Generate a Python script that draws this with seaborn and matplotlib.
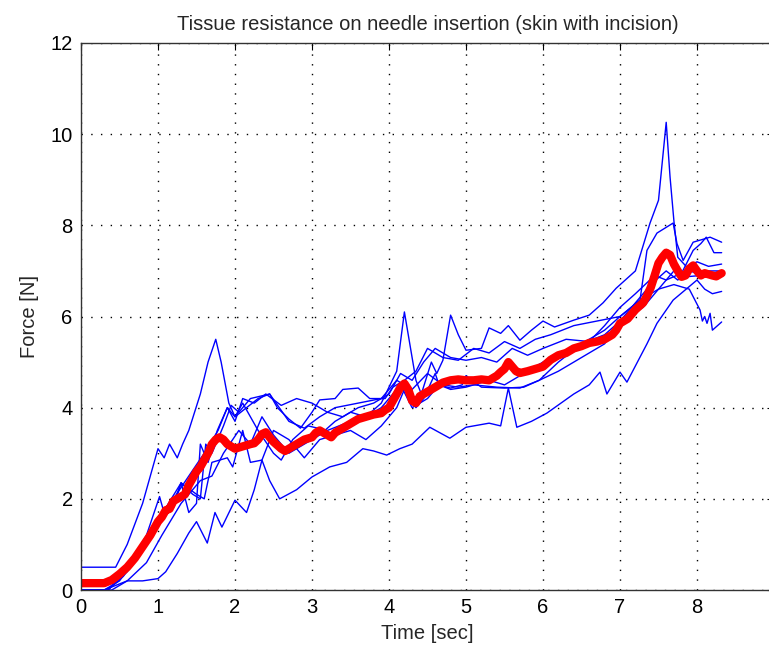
import numpy as np
import pandas as pd
import seaborn as sns
import matplotlib
matplotlib.use("Agg")
import matplotlib.pyplot as plt

# ---- data (time in sec, force in N) ----
t_c1 = [0, 0.45, 0.6, 0.8, 1.0, 1.08, 1.15, 1.25, 1.32, 1.4, 1.55, 1.65, 1.75, 1.82, 1.92, 2.0,
        2.3, 2.45, 2.7, 2.9, 3.1, 3.3, 3.6, 3.9, 4.1, 4.3, 4.5, 4.7, 4.9, 5.1, 5.4, 5.7, 5.95,
        6.2, 6.5, 6.8, 7.0, 7.26, 7.5, 7.7, 7.85, 8.05, 8.15, 8.32]
f_c1 = [0.5, 0.5, 1.0, 1.9, 3.1, 2.9, 3.2, 2.9, 3.2, 3.5, 4.3, 5.0, 5.5, 5.0, 4.1, 3.8,
        4.2, 4.3, 3.7, 3.55, 3.8, 4.0, 4.1, 4.2, 4.6, 4.4, 4.75, 4.5, 4.45, 4.5, 4.45, 4.43, 4.6,
        5.0, 5.4, 5.7, 6.0, 6.36, 6.6, 7.0, 6.87, 6.9, 7.0, 7.0]

t_c2 = [0, 0.35, 0.6, 0.85, 1.02, 1.07, 1.2, 1.3, 1.4, 1.5, 1.55, 1.65, 1.77, 1.9, 2.0, 2.1,
        2.3, 2.5, 2.6, 2.75, 2.95, 3.2, 3.5, 3.7, 3.9, 4.1, 4.2, 4.35, 4.42, 4.55, 4.62, 4.7,
        4.8, 4.9, 5.0, 5.2, 5.3, 5.45, 5.55, 5.7, 5.85, 6.0, 6.15, 6.4, 6.6, 6.78, 6.95, 7.2,
        7.39, 7.5, 7.6, 7.65, 7.7, 7.75, 7.87, 8.0, 8.15, 8.32]
f_c2 = [0.0, 0.0, 0.5, 1.2, 2.05, 1.75, 1.9, 2.35, 1.7, 1.9, 3.2, 2.8, 3.5, 4.0, 3.8, 4.1,
        3.5, 3.0, 2.85, 3.3, 3.6, 3.5, 3.7, 3.8, 4.1, 4.8, 6.1, 4.6, 4.3, 5.0, 4.75, 5.04,
        6.03, 5.6, 5.26, 5.3, 5.75, 5.63, 5.8, 5.48, 5.7, 5.9, 5.77, 5.92, 6.03, 6.3, 6.62, 7.0,
        8.05, 8.55, 10.26, 9.06, 8.1, 7.3, 7.08, 7.2, 7.1, 7.15]

t_c3 = [0, 0.35, 0.55, 0.8, 1.0, 1.2, 1.3, 1.45, 1.55, 1.62, 1.7, 1.85, 1.95, 2.05, 2.2, 2.45,
        2.55, 2.7, 2.85, 3.0, 3.1, 3.3, 3.4, 3.6, 3.75, 3.95, 4.05, 4.2, 4.35, 4.5, 4.7, 4.9,
        5.1, 5.3, 5.5, 5.7, 5.9, 6.1, 6.4, 7.0, 7.26, 7.35, 7.48, 7.69, 7.74, 7.82, 7.95, 8.17,
        8.32]
f_c3 = [0.0, 0.0, 0.3, 0.9, 1.6, 1.8, 2.35, 2.1, 2.0, 3.2, 3.0, 3.6, 4.05, 3.9, 4.2, 4.3,
        4.0, 3.75, 3.55, 3.9, 4.17, 4.2, 4.4, 4.43, 4.2, 4.2, 4.45, 4.6, 4.8, 5.3, 5.1, 5.04,
        5.3, 5.2, 5.45, 5.3, 5.5, 5.6, 5.8, 6.0, 6.36, 7.45, 7.83, 8.05, 7.6, 7.23, 7.63, 7.74,
        7.63]

t_c4 = [0, 0.3, 0.5, 0.75, 1.1, 1.3, 1.5, 1.6, 1.7, 1.9, 1.97, 2.1, 2.2, 2.35, 2.5, 2.7,
        2.9, 3.1, 3.3, 3.5, 3.7, 3.9, 4.1, 4.2, 4.35, 4.45, 4.6, 4.65, 4.8, 4.95, 5.0, 5.2,
        5.5, 5.75, 5.95, 6.2, 6.5, 6.8, 7.0, 7.3, 7.5, 7.7, 7.9, 8.04, 8.07, 8.1, 8.13, 8.17,
        8.2, 8.32]
f_c4 = [0.0, 0.0, 0.2, 0.8, 1.8, 2.35, 2.1, 2.0, 2.8, 2.9, 2.7, 3.5, 2.8, 2.85, 3.5, 3.3,
        2.9, 3.3, 3.4, 3.5, 3.3, 3.6, 4.0, 4.4, 4.0, 4.2, 4.75, 4.5, 4.43, 4.5, 4.7, 4.45,
        4.43, 4.45, 4.6, 4.8, 5.1, 5.4, 5.9, 6.2, 6.6, 6.7, 6.6, 6.14, 5.9, 6.0, 5.85, 6.07,
        5.7, 5.88]

t_c5 = [0, 0.35, 0.6, 0.85, 1.0, 1.2, 1.4, 1.6, 1.78, 1.9, 2.0, 2.1, 2.25, 2.4, 2.6, 2.8,
        3.0, 3.2, 3.4, 3.6, 3.8, 4.0, 4.15, 4.3, 4.45, 4.6, 4.8, 5.0, 5.2, 5.4, 5.6, 5.8,
        6.0, 6.3, 6.6, 6.8, 7.0, 7.2, 7.45, 7.6, 7.8, 7.95, 8.05, 8.12, 8.22, 8.32]
f_c5 = [0.0, 0.0, 0.4, 1.0, 1.5, 2.0, 2.5, 3.0, 3.5, 4.0, 3.7, 4.2, 4.1, 4.3, 4.05, 4.2,
        4.1, 3.9, 3.8, 4.0, 4.1, 4.3, 4.75, 4.6, 5.0, 5.3, 5.1, 5.04, 5.1, 5.0, 5.3, 5.15,
        5.3, 5.5, 5.45, 5.8, 6.2, 6.5, 6.9, 6.8, 6.95, 7.45, 7.6, 7.74, 7.4, 7.4]

t_c6 = [0.3, 0.45, 0.6, 0.8, 1.0, 1.1, 1.25, 1.4, 1.5, 1.64, 1.74, 1.83, 2.0, 2.15, 2.25,
        2.35, 2.45, 2.58, 2.8, 3.0, 3.23, 3.45, 3.66, 3.8, 3.97, 4.14, 4.3, 4.53, 4.79, 5.0,
        5.3, 5.45, 5.55, 5.66, 5.85, 6.05, 6.4, 6.6, 6.74, 6.83, 7.0, 7.09, 7.35, 7.48, 7.69,
        8.0, 8.1, 8.2, 8.32]
f_c6 = [0.0, 0.1, 0.2, 0.2, 0.25, 0.4, 0.8, 1.25, 1.5, 1.03, 1.7, 1.38, 1.97, 1.7, 2.2,
        2.85, 2.4, 2.0, 2.2, 2.48, 2.7, 2.8, 3.1, 3.05, 2.96, 3.1, 3.2, 3.57, 3.33, 3.57,
        3.66, 3.6, 4.43, 3.57, 3.7, 3.88, 4.3, 4.5, 4.78, 4.3, 4.78, 4.56, 5.4, 5.85, 6.36,
        6.8, 6.6, 6.5, 6.55]

t_c7 = [0, 0.4, 0.6, 0.85, 1.05, 1.3, 1.55, 1.7, 1.85, 2.05, 2.2, 2.35, 2.5, 2.7, 2.9, 3.1,
        3.3, 3.5, 3.7, 3.9, 4.05, 4.15, 4.3, 4.5, 4.65, 4.8, 5.0, 5.3, 5.5, 5.7, 5.9, 6.2,
        6.5, 6.8, 7.0, 7.2, 7.4, 7.6, 7.75, 7.9, 8.1, 8.32]
f_c7 = [0.0, 0.0, 0.2, 0.6, 1.2, 1.9, 2.4, 2.5, 3.0, 3.5, 3.2, 3.8, 3.4, 3.0, 3.2, 3.4,
        3.7, 3.9, 3.8, 4.0, 4.3, 4.5, 4.0, 4.2, 4.5, 4.4, 4.45, 4.6, 4.5, 4.7, 4.9, 5.2,
        5.4, 5.6, 5.9, 6.3, 6.7, 7.0, 6.8, 7.0, 6.9, 7.0]

# thick red mean curve
t_mean = [0, 0.3, 0.4, 0.5, 0.6, 0.7, 0.8, 0.9, 1.0, 1.05, 1.1, 1.15, 1.2, 1.25, 1.3, 1.35,
          1.4, 1.45, 1.5, 1.55, 1.6, 1.65, 1.7, 1.75, 1.8, 1.85, 1.9, 1.95, 2.0, 2.1, 2.2,
          2.25, 2.3, 2.35, 2.4, 2.45, 2.5, 2.6, 2.65, 2.7, 2.8, 2.9, 3.0, 3.05, 3.1, 3.15,
          3.2, 3.25, 3.3, 3.4, 3.5, 3.6, 3.7, 3.8, 3.9, 3.95, 4.0, 4.05, 4.1, 4.15, 4.2,
          4.25, 4.3, 4.35, 4.4, 4.5, 4.6, 4.7, 4.8, 4.9, 5.0, 5.1, 5.2, 5.3, 5.4, 5.45, 5.5,
          5.55, 5.6, 5.65, 5.7, 5.8, 5.9, 6.0, 6.1, 6.2, 6.3, 6.4, 6.5, 6.6, 6.7, 6.8, 6.9,
          6.95, 7.0, 7.1, 7.2, 7.3, 7.35, 7.4, 7.45, 7.5, 7.55, 7.6, 7.65, 7.7, 7.75, 7.8,
          7.85, 7.9, 7.95, 8.0, 8.05, 8.1, 8.2, 8.25, 8.32]
f_mean = [0.15, 0.15, 0.22, 0.35, 0.5, 0.7, 0.95, 1.2, 1.5, 1.6, 1.75, 1.78, 1.95, 2.0, 2.05, 2.1,
          2.3, 2.45, 2.6, 2.7, 2.85, 3.0, 3.2, 3.3, 3.35, 3.3, 3.2, 3.15, 3.1, 3.15, 3.2,
          3.22, 3.3, 3.42, 3.46, 3.35, 3.25, 3.1, 3.05, 3.1, 3.2, 3.3, 3.35, 3.45, 3.5, 3.45,
          3.4, 3.35, 3.45, 3.55, 3.65, 3.75, 3.8, 3.85, 3.88, 3.95, 4.0, 4.15, 4.3, 4.45, 4.53,
          4.4, 4.15, 4.1, 4.25, 4.35, 4.45, 4.55, 4.6, 4.62, 4.6, 4.6, 4.62, 4.6, 4.7, 4.78, 4.85,
          5.0, 4.9, 4.8, 4.76, 4.8, 4.85, 4.9, 5.05, 5.15, 5.2, 5.3, 5.35, 5.42, 5.45, 5.5, 5.6,
          5.7, 5.85, 5.95, 6.15, 6.3, 6.45, 6.64, 6.9, 7.17, 7.3, 7.4, 7.35, 7.15, 7.0, 6.87,
          6.9, 7.05, 7.12, 7.0, 6.9, 6.95, 6.9, 6.88, 6.95]

trials = [(t_c1, f_c1), (t_c2, f_c2), (t_c3, f_c3), (t_c4, f_c4),
          (t_c5, f_c5), (t_c6, f_c6), (t_c7, f_c7)]

rows = []
for i, (tt, ff) in enumerate(trials):
    for a, b in zip(tt, ff):
        rows.append({"trial": i, "time": a, "force": b})
df = pd.DataFrame(rows)
df_mean = pd.DataFrame({"time": t_mean, "force": f_mean})

sns.set_style("white")
plt.rcParams['font.family'] = ['Liberation Sans', 'DejaVu Sans']

fig = plt.figure(figsize=(7.69, 6.48), dpi=100)
ax = fig.add_axes([81 / 769, 58 / 648, 693 / 769, 547 / 648])

sns.lineplot(data=df, x="time", y="force", units="trial", estimator=None,
             color="#0000ff", linewidth=1.0, sort=False, ax=ax)
sns.lineplot(data=df_mean, x="time", y="force", color="#ff0000",
             linewidth=6, sort=False, ax=ax, solid_joinstyle="round")

ax.set_xlim(0, 9)
ax.set_ylim(0, 12)
ax.set_xticks(range(0, 10))
ax.set_xticklabels([str(i) for i in range(0, 9)] + [""])
ax.set_yticks(range(0, 13, 2))
ax.grid(True, color="black", linestyle=(0, (1, 6)), linewidth=1.0)
ax.tick_params(direction="in", length=5, top=True, right=True,
               labelsize=14.5, colors="black", pad=6)
for s in ax.spines.values():
    s.set_color("#333333")
    s.set_linewidth(1.0)

ax.set_xlabel("Time [sec]", fontsize=14.5, labelpad=5)
ax.set_ylabel("Force [N]", fontsize=14.5, labelpad=8)
ax.set_title("Tissue resistance on needle insertion (skin with incision)",
             fontsize=14.5, pad=9)

fig.savefig("out.png", dpi=100, facecolor="white")
